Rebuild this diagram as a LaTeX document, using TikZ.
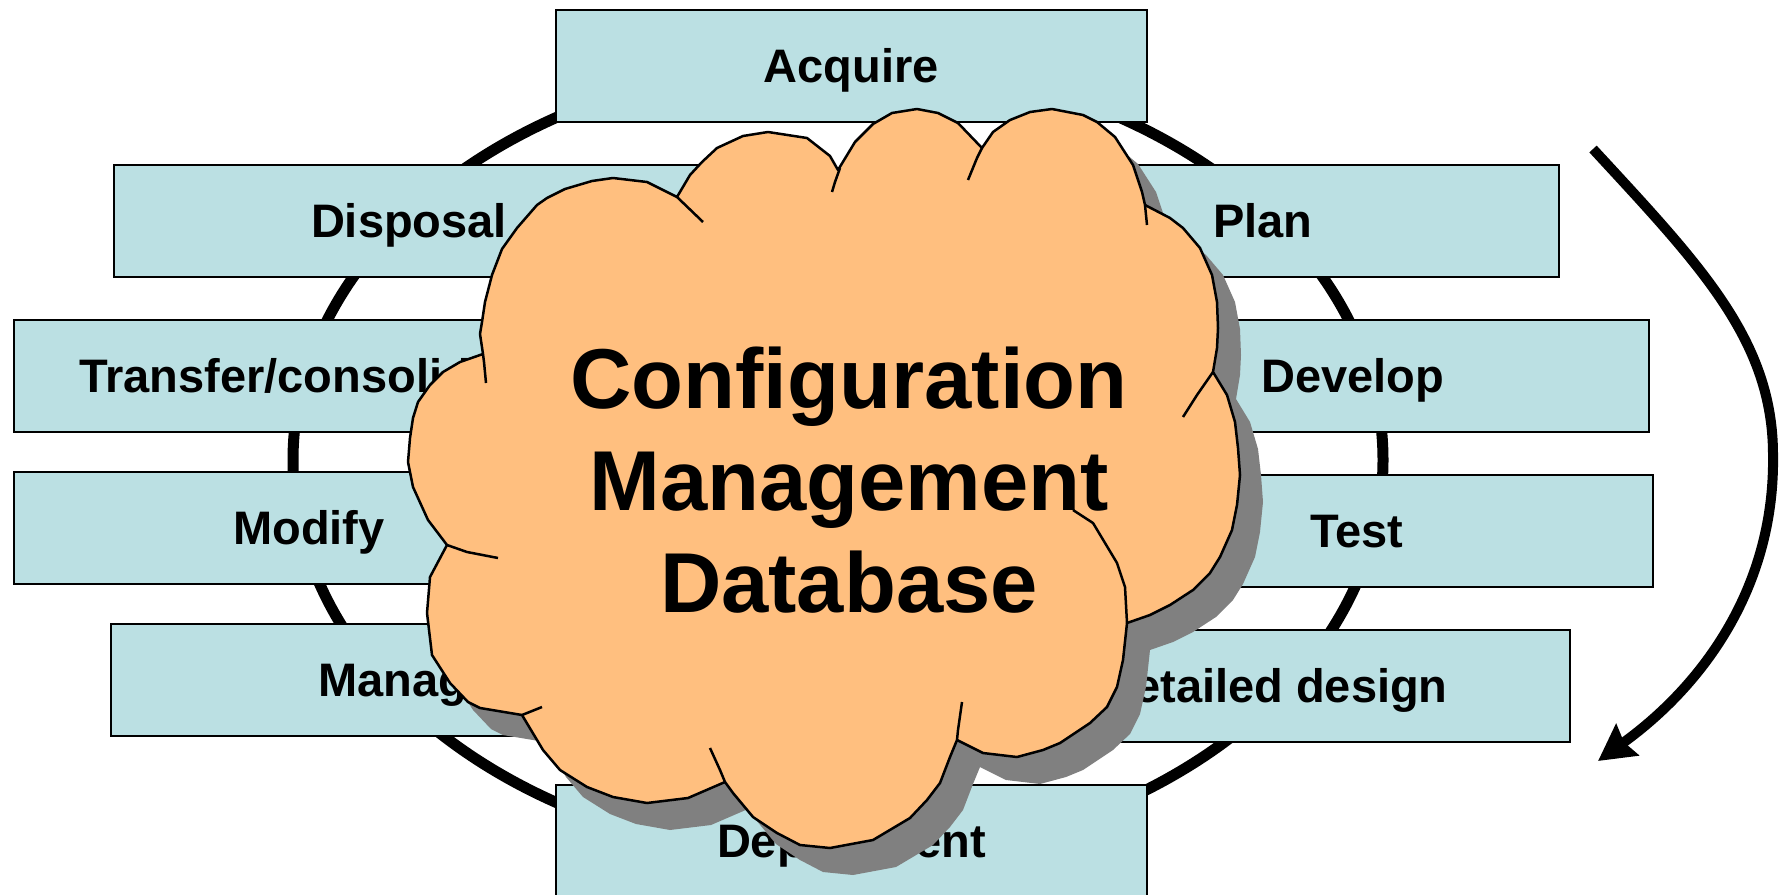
\documentclass[tikz,border=0pt]{standalone}
\usepackage{fontspec}
\setmainfont{Liberation Sans}
\usetikzlibrary{arrows.meta}
\definecolor{phasefill}{HTML}{BBE0E3}
\definecolor{cloudfill}{HTML}{FFBF7F}
\definecolor{shadowgray}{HTML}{808080}
\newcommand{\cloudoutline}{(677,197) -- (690,175) -- (702,162) -- (717,148) -- (743,136) -- (768,132) -- (807,138) -- (830,156) -- (838,170)
  -- (855,142) -- (873,124) -- (892,113) -- (917,109) -- (938,113) -- (958,123) -- (982,148)
  -- (993,132) -- (1010,120) -- (1030,112) -- (1052,109) -- (1083,115) -- (1097,122) -- (1115,137) -- (1133,165) -- (1142,192) -- (1145,205)
  -- (1170,218) -- (1183,228) -- (1200,248) -- (1212,275) -- (1217,302) -- (1218,328) -- (1217,348) -- (1213,372)
  -- (1227,395) -- (1235,422) -- (1238,448) -- (1240,475) -- (1237,505) -- (1232,530) -- (1220,557) -- (1210,573) -- (1193,590) -- (1170,605) -- (1150,615) -- (1127,623)
  -- (1123,660) -- (1117,687) -- (1107,707) -- (1090,723) -- (1060,743) -- (1043,750) -- (1017,757) -- (983,753) -- (957,740)
  -- (950,757) -- (940,783) -- (927,800) -- (910,818) -- (873,840) -- (830,848) -- (800,845) -- (777,833) -- (753,817) -- (733,793) -- (725,782)
  -- (688,798) -- (647,803) -- (613,797) -- (587,787) -- (560,770) -- (543,750) -- (522,715)
  -- (510,713) -- (480,708) -- (468,702) -- (450,683) -- (432,655) -- (427,613) -- (430,577) -- (447,545)
  -- (428,520) -- (413,487) -- (408,462) -- (410,438) -- (413,418) -- (418,402) -- (430,385) -- (443,372) -- (460,362) -- (483,354)
  -- (480,334) -- (482,322) -- (485,302) -- (492,275) -- (502,249) -- (517,228) -- (537,205) -- (547,198) -- (565,189) -- (592,181) -- (613,178) -- (647,182) -- cycle}

\begin{document}
\begin{tikzpicture}[x=0.5pt, y=-0.5pt,
    phase/.style={draw, line width=1pt, fill=phasefill, minimum width=295.5pt, minimum height=56pt,
      inner sep=0pt, font=\fontsize{23.5}{28}\selectfont\bfseries, text height=16.8pt, text depth=0pt},
    ring/.style={line width=5.5pt},
    cloudshape/.style={draw, line width=1.25pt, fill=cloudfill, line join=round},
    cloudline/.style={line width=1.25pt, line join=round},
    cloudtext/.style={font=\fontsize{42.5}{51}\selectfont\bfseries, anchor=base},
    turn/.style={line width=5pt, -{Stealth[length=18pt, width=19pt, inset=2pt]}}]
      \useasboundingbox (0,0) rectangle (1787,894);
      \draw[ring] (838,460) ellipse [x radius=272.5pt, y radius=200pt];
      \def \Phases{
        acq/851/65.5/Acquire,
        plan/1263/220.5/Plan,
        dev/1353/375.5/Develop,
        test/1357/531/Test,
        det/1274/685.5/Detailed design,
        dep/851.5/840.5/Deployment,
        man/406/679.5/Manage,
        mod/309/527.5/Modify,
        trans/309/375.5/{Transfer/consolidate},
        disp/409/220.5/Disposal}
      \foreach \id / \x / \y / \lb in \Phases{
        \node[phase] (\id) at (\x, \y) {\lb};
      }
      \fill[shadowgray, shift={(23,27)}] \cloudoutline;
      \draw[cloudshape] \cloudoutline;
      \draw[cloudline] (840,168) -- (835,182) -- (832,192)
        (982,148) -- (977,158) -- (968,180)
        (1145,205) -- (1147,225)
        (1213,372) -- (1197,395) -- (1183,417)
        (1127,623) -- (1125,587) -- (1117,563) -- (1093,523) -- (1073,510)
        (957,740) -- (958,730) -- (962,702)
        (725,782) -- (720,770) -- (710,748)
        (522,715) -- (542,707)
        (447,545) -- (467,552) -- (498,558)
        (483,354) -- (484,362) -- (486,383)
        (677,197) -- (703,222);
      \foreach \id / \y / \lb in {cfg/408/Configuration, mgmt/510/Management, db/612/Database}{
        \node[cloudtext] (\id) at (849, \y) {\lb};
      }
      \coordinate (turnstart) at (1593,149);
      \coordinate (turnmid) at (1773,455);
      \coordinate (turnend) at (1598,761);
      \draw[turn] (turnstart) .. controls (1700,265) and (1773,340) .. (turnmid)
        .. controls (1775,580) and (1710,680) .. (turnend);
\end{tikzpicture}
\end{document}
